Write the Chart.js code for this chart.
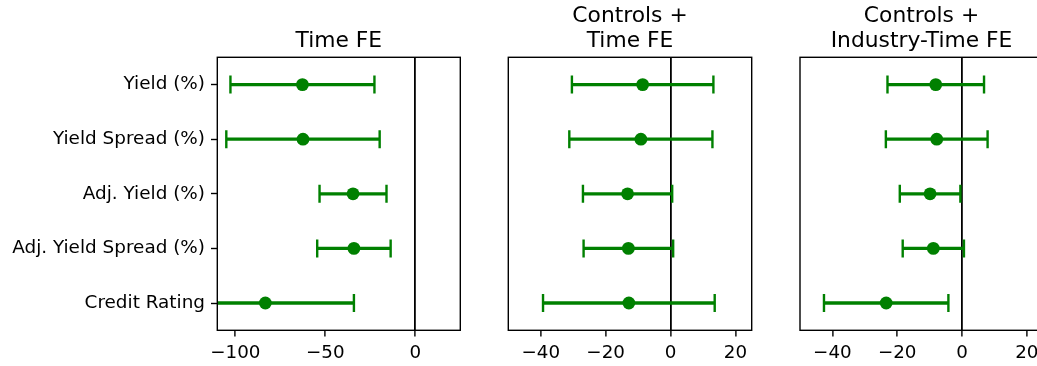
<!DOCTYPE html>
<html>
<head>
<meta charset="utf-8">
<script src="https://cdn.jsdelivr.net/npm/chart.js@4/dist/chart.umd.min.js"></script>
<style>
  html, body { margin: 0; padding: 0; background: #fff; overflow: hidden; width: 1037px; height: 366px; }
  canvas { position: absolute; top: 0; }
</style>
</head>
<body>
<canvas id="p1" width="470" height="366" style="left:0px"></canvas>
<canvas id="p2" width="262" height="366" style="left:498px"></canvas>
<canvas id="p3" width="262" height="366" style="left:790px"></canvas>
<script>
// Outcome variables (rows, top to bottom)
const outcomes = ['Yield (%)', 'Yield Spread (%)', 'Adj. Yield (%)', 'Adj. Yield Spread (%)', 'Credit Rating'];

// Panel titles
const titleTimeFE = ['Time FE'];
const titleControlsTimeFE = ['Controls +', 'Time FE'];
const titleControlsIndTimeFE = ['Controls +', 'Industry-Time FE'];

// Point estimates and 95% CI half-widths
const coefTimeFE = [-62.7, -62.4, -34.6, -34.1, -83.3];
const ciTimeFE   = [40.0, 42.6, 18.6, 20.4, 49.2];

const coefControlsTimeFE = [-8.6, -9.15, -13.25, -13.0, -12.85];
const ciControlsTimeFE   = [21.8, 22.05, 13.75, 13.8, 26.45];

const coefControlsIndTimeFE = [-8.1, -7.8, -9.85, -8.85, -23.4];
const ciControlsIndTimeFE   = [14.9, 15.7, 9.35, 9.45, 19.2];

// Axis ranges and tick values
const xRangeTimeFE = [-110, 25];
const xRangeControls = [-50, 25];
const xTicksTimeFE = [-100, -50, 0];
const xTicksControls = [-40, -20, 0, 20];

const GREEN = '#008000';
const FONT = "'DejaVu Sans', sans-serif";

// Draws the box around the plotting area
const framePlugin = {
  id: 'frame',
  afterDraw(chart) {
    const {ctx, chartArea: a} = chart;
    ctx.save();
    ctx.strokeStyle = '#000';
    ctx.lineWidth = 1.4;
    ctx.strokeRect(a.left, a.top, a.right - a.left, a.bottom - a.top);
    ctx.restore();
  }
};

function makePanel(id, title, coef, ci, xRange, xTicks, opts) {
  const lows = coef.map((c, i) => c - ci[i]);
  const highs = coef.map((c, i) => c + ci[i]);
  const oneLine = title.length === 1;
  new Chart(document.getElementById(id), {
    type: 'bar',
    data: {
      labels: outcomes,
      datasets: [
        { // point estimates
          type: 'line', data: coef, showLine: false,
          pointRadius: 6.4, pointBackgroundColor: GREEN, pointBorderWidth: 0,
          pointStyle: 'circle'
        },
        { // lower caps
          type: 'line', data: lows, showLine: false,
          pointStyle: 'line', pointRotation: 90, pointRadius: 9,
          pointBorderColor: GREEN, pointBorderWidth: 2.4
        },
        { // upper caps
          type: 'line', data: highs, showLine: false,
          pointStyle: 'line', pointRotation: 90, pointRadius: 9,
          pointBorderColor: GREEN, pointBorderWidth: 2.4
        },
        { // confidence interval whiskers
          type: 'bar', data: lows.map((l, i) => [l, highs[i]]),
          backgroundColor: GREEN, barThickness: 2.6, borderWidth: 0
        }
      ]
    },
    options: {
      indexAxis: 'y',
      responsive: false,
      animation: false,
      devicePixelRatio: 1,
      layout: { padding: opts.padding, autoPadding: false },
      plugins: {
        legend: { display: false },
        tooltip: { enabled: false },
        title: {
          display: true,
          text: title,
          fullSize: false,
          color: '#000',
          font: { family: FONT, size: 21.8, weight: 'normal', lineHeight: '25px' },
          padding: oneLine ? { top: 28.5, bottom: 3.8 } : { top: 3.5, bottom: 3.8 }
        }
      },
      scales: {
        x: {
          type: 'linear',
          min: xRange[0], max: xRange[1],
          z: 1,
          afterBuildTicks: (s) => { s.ticks = xTicks.map(v => ({ value: v })); },
          afterFit: (s) => { s.height = 35.7; },
          border: { display: false },
          grid: {
            drawOnChartArea: true,
            color: (c) => (c.tick && c.tick.value === 0) ? '#000' : 'rgba(0,0,0,0)',
            lineWidth: 1.8,
            tickColor: '#000',
            tickWidth: 1.4,
            tickLength: 6.3
          },
          ticks: {
            color: '#000',
            padding: 6,
            maxRotation: 0,
            font: { family: FONT, size: 18.3 },
            callback: (v) => String(v).replace('-', '\u2212')
          }
        },
        y: {
          type: 'category',
          display: opts.showY,
          afterFit: (s) => { s.width = opts.showY ? 217.3 : 0; },
          border: { display: false },
          grid: {
            offset: false,
            drawOnChartArea: false,
            tickColor: '#000',
            tickWidth: 1.4,
            tickLength: 6.3
          },
          ticks: {
            color: '#000',
            padding: 6,
            font: { family: FONT, size: 18.4 }
          }
        }
      }
    },
    plugins: [framePlugin]
  });
}

makePanel('p1', titleTimeFE, coefTimeFE, ciTimeFE, xRangeTimeFE, xTicksTimeFE,
  { showY: true, padding: { left: 0, right: 9.7, top: 0, bottom: 0 } });
makePanel('p2', titleControlsTimeFE, coefControlsTimeFE, ciControlsTimeFE, xRangeControls, xTicksControls,
  { showY: false, padding: { left: 10.3, right: 8.3, top: 0, bottom: 0 } });
makePanel('p3', titleControlsIndTimeFE, coefControlsIndTimeFE, ciControlsIndTimeFE, xRangeControls, xTicksControls,
  { showY: false, padding: { left: 10, right: 9, top: 0, bottom: 0 } });
</script>
</body>
</html>
